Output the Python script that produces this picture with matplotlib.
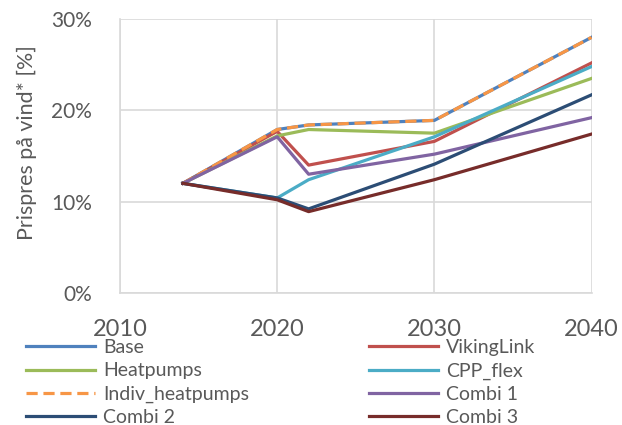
import matplotlib.pyplot as plt
from matplotlib.ticker import PercentFormatter

# Years of the model runs
years = [2014, 2020, 2022, 2030, 2040]

# Price premium on wind per scenario [%]
base = [12.0, 17.9, 18.4, 18.9, 28.0]
vikinglink = [12.0, 17.7, 14.0, 16.6, 25.2]
heatpumps = [12.0, 17.2, 17.9, 17.5, 23.5]
cpp_flex = [12.0, 10.4, 12.4, 17.1, 24.8]
indiv_heatpumps = [12.0, 17.9, 18.4, 18.9, 28.0]
combi1 = [12.0, 17.1, 13.0, 15.2, 19.2]
combi2 = [12.0, 10.4, 9.2, 14.1, 21.7]
combi3 = [12.0, 10.2, 8.9, 12.4, 17.4]

plt.rcParams["font.family"] = ["Lato", "DejaVu Sans"]
text_color = "#595959"

fig = plt.figure(figsize=(6.22, 4.25), dpi=100)
ax = fig.add_axes([0.193, 0.311, 0.758, 0.644])

lw = 2.3
h_base, = ax.plot(years, base, color="#4F81BD", lw=lw, label="Base")
h_vl, = ax.plot(years, vikinglink, color="#C0504D", lw=lw, label="VikingLink")
h_hp, = ax.plot(years, heatpumps, color="#9BBB59", lw=lw, label="Heatpumps")
h_cpp, = ax.plot(years, cpp_flex, color="#4BACC6", lw=lw, label="CPP_flex")
h_ind, = ax.plot(years, indiv_heatpumps, color="#F79646", lw=lw,
                 ls=(0, (3.5, 1.8)), label="Indiv_heatpumps")
h_c1, = ax.plot(years, combi1, color="#8064A2", lw=lw, label="Combi 1")
h_c2, = ax.plot(years, combi2, color="#2C4D75", lw=lw, label="Combi 2")
h_c3, = ax.plot(years, combi3, color="#772C2A", lw=lw, label="Combi 3")

ax.set_xlim(2010, 2040)
ax.set_ylim(0, 30)
ax.set_xticks([2010, 2020, 2030, 2040])
ax.set_yticks([0, 10, 20, 30])
ax.yaxis.set_major_formatter(PercentFormatter(decimals=0))
ax.grid(True, color="#D9D9D9", lw=1.2)
ax.set_axisbelow(True)
for side in ["top", "right"]:
    ax.spines[side].set_visible(False)
for side in ["left", "bottom"]:
    ax.spines[side].set_color("#D9D9D9")
    ax.spines[side].set_linewidth(1.2)
ax.tick_params(axis="y", length=0, labelsize=15, colors=text_color, pad=20)
ax.tick_params(axis="x", length=0, labelsize=17, colors=text_color, pad=19)
ax.set_ylabel("Prispres på vind* [%]", fontsize=15.4, color=text_color)
ax.yaxis.set_label_coords(-0.176, 0.55)

# two single-column legends, placed side by side below the axes
leg_kw = dict(loc="center left", frameon=False, fontsize=14, labelcolor=text_color,
              handlelength=3.55, handletextpad=0.41, labelspacing=0.32,
              borderpad=0, borderaxespad=0, bbox_transform=fig.transFigure)
fig.legend(handles=[h_base, h_hp, h_ind, h_c2], bbox_to_anchor=(26 / 622, 0.0995), **leg_kw)
fig.legend(handles=[h_vl, h_cpp, h_c1, h_c3], bbox_to_anchor=(369 / 622, 0.0995), **leg_kw)

plt.savefig("out.png", dpi=100)
